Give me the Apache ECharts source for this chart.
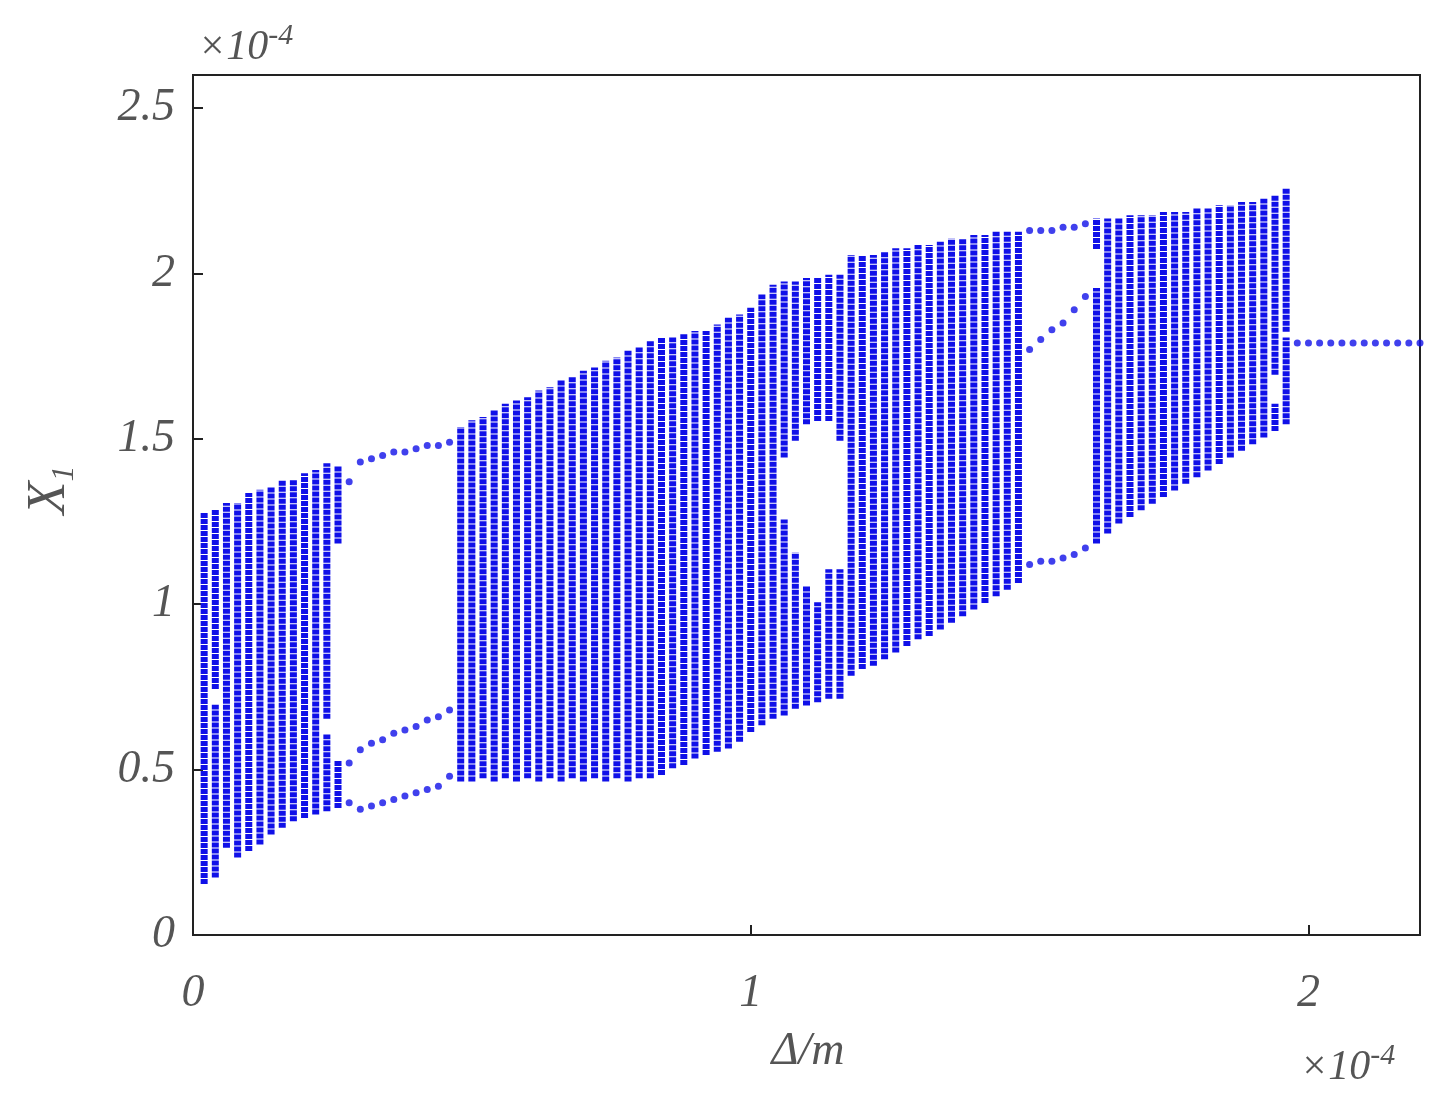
<!DOCTYPE html>
<html>
<head>
<meta charset="utf-8">
<script src="https://cdn.jsdelivr.net/npm/echarts@6/dist/echarts.min.js"></script>
<style>html,body{margin:0;padding:0;background:#fff}#container{width:1446px;height:1104px}</style>
</head>
<body>
<div id="container"></div>
<script>
// chaotic bands: column x, lower and upper edge (units of 1e-4)
var band1X = [0.02,0.04,0.06,0.08,0.10,0.12,0.14,0.16,0.18,0.20,0.22,0.24,0.26];
var band1Low = [0.16,0.18,0.27,0.24,0.26,0.28,0.31,0.33,0.35,0.36,0.37,0.38,0.39];
var band1High = [1.27,1.28,1.30,1.30,1.33,1.34,1.35,1.37,1.37,1.39,1.40,1.42,1.41];

var band2X = [0.48,0.50,0.52,0.54,0.56,0.58,0.60,0.62,0.64,0.66,0.68,0.70,0.72,0.74,0.76,0.78,0.80,0.82,0.84,0.86,0.88,0.90,0.92,0.94,0.96,0.98,1.00,1.02,1.04,1.06,1.08,1.10,1.12,1.14,1.16,1.18,1.20,1.22,1.24,1.26,1.28,1.30,1.32,1.34,1.36,1.38,1.40,1.42,1.44,1.46,1.48];
var band2Low = [0.47,0.47,0.48,0.47,0.48,0.47,0.48,0.47,0.48,0.47,0.48,0.47,0.48,0.47,0.48,0.47,0.48,0.48,0.49,0.51,0.52,0.54,0.55,0.56,0.57,0.59,0.62,0.64,0.66,0.67,0.69,0.70,0.71,0.72,0.72,0.79,0.81,0.82,0.84,0.86,0.88,0.90,0.91,0.93,0.95,0.97,0.99,1.01,1.03,1.05,1.07];
var band2High = [1.53,1.55,1.56,1.58,1.60,1.61,1.62,1.64,1.65,1.67,1.68,1.70,1.71,1.73,1.74,1.76,1.77,1.79,1.80,1.80,1.81,1.82,1.82,1.84,1.86,1.87,1.89,1.93,1.96,1.97,1.97,1.98,1.98,1.99,1.99,2.05,2.05,2.05,2.06,2.07,2.07,2.08,2.08,2.09,2.10,2.10,2.11,2.11,2.12,2.12,2.12];

var band3X = [1.62,1.64,1.66,1.68,1.70,1.72,1.74,1.76,1.78,1.80,1.82,1.84,1.86,1.88,1.90,1.92,1.94,1.96];
var band3Low = [1.19,1.22,1.25,1.27,1.29,1.31,1.33,1.35,1.37,1.39,1.41,1.43,1.45,1.47,1.49,1.51,1.53,1.55];
var band3High = [2.16,2.16,2.16,2.17,2.17,2.17,2.18,2.18,2.18,2.19,2.19,2.20,2.20,2.21,2.21,2.22,2.23,2.25];

// empty stretches inside columns: [x, from, to]
var gaps = [
  [0.26, 0.52, 1.19], [0.24, 0.60, 0.66], [0.04, 0.69, 0.75],
  [1.06, 1.25, 1.45], [1.08, 1.15, 1.50], [1.10, 1.05, 1.55],
  [1.12, 1.00, 1.56], [1.14, 1.10, 1.56], [1.16, 1.10, 1.50],
  [1.62, 1.95, 2.08], [1.94, 1.60, 1.70], [1.96, 1.80, 1.83]
];

// periodic windows
var win1X = [0.28,0.30,0.32,0.34,0.36,0.38,0.40,0.42,0.44,0.46];
var win1Up = [1.37,1.43,1.44,1.45,1.46,1.46,1.47,1.48,1.48,1.49];
var win1Mid = [0.52,0.56,0.58,0.59,0.61,0.62,0.63,0.65,0.66,0.68];
var win1Low = [0.40,0.38,0.39,0.40,0.41,0.42,0.43,0.44,0.45,0.48];

var win2X = [1.50,1.52,1.54,1.56,1.58,1.60];
var win2Up = [2.13,2.13,2.13,2.14,2.14,2.15];
var win2Mid = [1.77,1.80,1.83,1.85,1.89,1.93];
var win2Low = [1.12,1.13,1.13,1.14,1.15,1.17];

var fixX = [1.98,2.00,2.02,2.04,2.06,2.08,2.10,2.12,2.14,2.16,2.18,2.20];
var fixY = [1.79,1.79,1.79,1.79,1.79,1.79,1.79,1.79,1.79,1.79,1.79,1.79];

var xTicks = [0, 1, 2];
var yTicks = [0, 0.5, 1, 1.5, 2, 2.5];

var blue = '#1010e8';
var columns = [];
function addBand(xs, lo, hi) {
  for (var i = 0; i < xs.length; i++) columns.push([xs[i], lo[i], hi[i]]);
}
addBand(band1X, band1Low, band1High);
addBand(band2X, band2Low, band2High);
addBand(band3X, band3Low, band3High);

var points = [];
function addPts(xs, ys) {
  for (var i = 0; i < xs.length; i++) points.push([xs[i], ys[i]]);
}
addPts(win1X, win1Up); addPts(win1X, win1Mid); addPts(win1X, win1Low);
addPts(win2X, win2Up); addPts(win2X, win2Mid); addPts(win2X, win2Low);
addPts(fixX, fixY);

function renderColumn(params, api) {
  var x = api.value(0), lo = api.value(1), hi = api.value(2);
  var segs = [[lo, hi]];
  gaps.forEach(function (g) {
    if (Math.abs(g[0] - x) > 1e-6) return;
    var out = [];
    segs.forEach(function (s) {
      if (g[2] <= s[0] || g[1] >= s[1]) { out.push(s); return; }
      if (g[1] > s[0]) out.push([s[0], g[1]]);
      if (g[2] < s[1]) out.push([g[2], s[1]]);
    });
    segs = out;
  });
  var children = segs.map(function (s) {
    var p0 = api.coord([x, s[0]]), p1 = api.coord([x, s[1]]);
    return {
      type: 'line',
      shape: { x1: p0[0], y1: p0[1] + 2, x2: p1[0], y2: p1[1] - 2 },
      style: { stroke: blue, lineWidth: 7, lineDash: [5, 1] }
    };
  });
  return { type: 'group', children: children };
}

var font = 'Liberation Serif';
var dom = document.getElementById('container');
var myChart = echarts.init(dom, null, { renderer: 'canvas' });
var option = {
  backgroundColor: '#fff',
  animation: false,
  grid: { left: 193, right: 26, top: 75, bottom: 169, show: true, borderColor: '#222', borderWidth: 2 },
  xAxis: {
    type: 'value', min: 0, max: 2.2, interval: 1,
    axisLine: { show: true, lineStyle: { color: '#222', width: 2 } },
    axisTick: { inside: true, length: 10, lineStyle: { color: '#222', width: 2 } },
    splitLine: { show: false },
    axisLabel: {
      margin: 36, fontFamily: font, fontStyle: 'italic', fontSize: 46, color: '#555',
      showMaxLabel: false,
      formatter: function (v) { return xTicks.indexOf(v) >= 0 ? String(v) : ''; }
    }
  },
  yAxis: {
    type: 'value', min: 0, max: 2.6, interval: 0.5,
    axisLine: { show: true, lineStyle: { color: '#222', width: 2 } },
    axisTick: { inside: true, length: 10, lineStyle: { color: '#222', width: 2 } },
    splitLine: { show: false },
    axisLabel: {
      margin: 18, fontFamily: font, fontStyle: 'italic', fontSize: 46, color: '#555',
      showMaxLabel: false,
      formatter: function (v) { return yTicks.indexOf(v) >= 0 ? String(v) : ''; }
    }
  },
  graphic: [
    { type: 'text', x: 50, y: 490, rotation: Math.PI / 2, style: {
      text: '{a|X}{s|1}', align: 'center', verticalAlign: 'middle',
      rich: { a: { fontFamily: font, fontStyle: 'italic', fontSize: 54, fill: '#555' },
              s: { fontFamily: font, fontStyle: 'italic', fontSize: 32, fill: '#555', padding: [30, 0, 0, 0] } } } },
    { type: 'text', x: 808, y: 1052, style: {
      text: 'Δ/m', align: 'center', verticalAlign: 'middle',
      font: 'italic 46px "Liberation Serif"', fill: '#555' } },
    { type: 'text', x: 198, y: 48, style: {
      text: '{a|×10}{s|-4}', verticalAlign: 'middle',
      rich: { a: { fontFamily: font, fontStyle: 'italic', fontSize: 42, fill: '#555' },
              s: { fontFamily: font, fontStyle: 'italic', fontSize: 30, fill: '#555', padding: [0, 0, 24, 0] } } } },
    { type: 'text', x: 1300, y: 1068, style: {
      text: '{a|×10}{s|-4}', verticalAlign: 'middle',
      rich: { a: { fontFamily: font, fontStyle: 'italic', fontSize: 42, fill: '#555' },
              s: { fontFamily: font, fontStyle: 'italic', fontSize: 30, fill: '#555', padding: [0, 0, 24, 0] } } } }
  ],
  series: [
    { type: 'custom', renderItem: renderColumn, data: columns, clip: true },
    { type: 'scatter', data: points, symbolSize: 7, itemStyle: { color: blue } }
  ]
};
myChart.setOption(option);
window.addEventListener('resize', myChart.resize);
</script>
</body>
</html>
